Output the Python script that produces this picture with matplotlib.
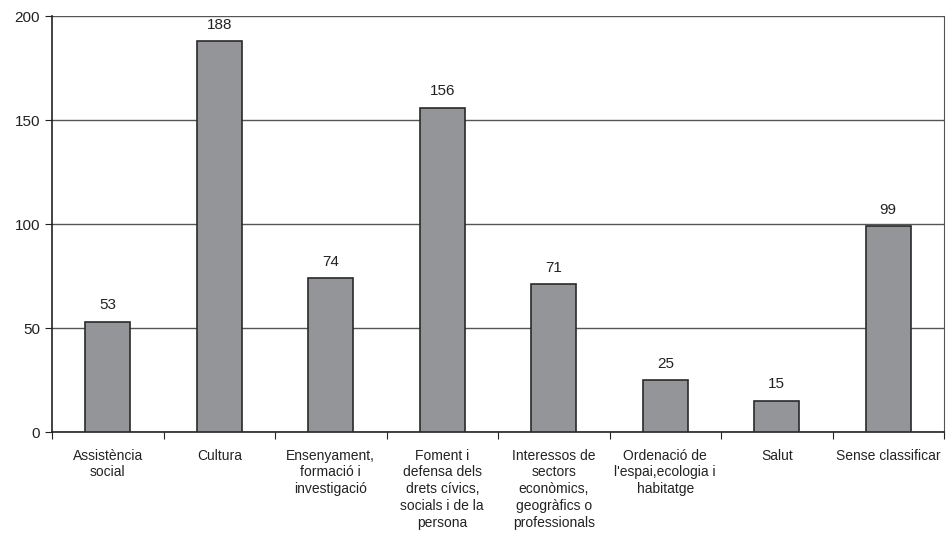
import matplotlib
matplotlib.use("Agg")
import matplotlib.pyplot as plt

categories = ["Assistència\nsocial", "Cultura", "Ensenyament,\nformació i\ninvestigació",
              "Foment i\ndefensa dels\ndrets cívics,\nsocials i de la\npersona",
              "Interessos de\nsectors\neconòmics,\ngeogràfics o\nprofessionals",
              "Ordenació de\nl'espai,ecologia i\nhabitatge", "Salut", "Sense classificar"]
values = [53, 188, 74, 156, 71, 25, 15, 99]
yticks = [0, 50, 100, 150, 200]

plt.rcParams['font.family'] = ['Liberation Sans', 'DejaVu Sans']
fig = plt.figure(figsize=(9.51, 5.33), dpi=100)
ax = fig.add_axes([52/951, 1-432/533, (944-52)/951, (432-16)/533])

x = list(range(len(values)))
ax.bar(x, values, width=0.40, color='#939598', edgecolor='#2a2a2a', linewidth=1.2, zorder=3)
for xi, v in zip(x, values):
    ax.text(xi, v + 4.5, str(v), ha='center', va='bottom', fontsize=11, color='#222222')

ax.set_xlim(-0.5, len(values) - 0.5)
ax.set_ylim(0, 200)
ax.set_yticks(yticks)
ax.set_yticklabels([str(t) for t in yticks], fontsize=11)
ax.yaxis.grid(True, color='#555555', linewidth=1.0, zorder=0)
ax.set_xticks([i + 0.5 for i in range(-1, len(values))], minor=False)
ax.set_xticklabels([])
ax.set_xticks(x, minor=True)
ax.set_xticklabels(categories, minor=True, fontsize=10, linespacing=1.25, va='top', color='#222222')
ax.tick_params(axis='x', which='minor', length=0, pad=12)
ax.tick_params(axis='x', which='major', length=5, direction='out', color='#222222')
ax.tick_params(axis='y', length=5, direction='out', color='#222222', labelcolor='#222222')
for s in ['left', 'bottom']:
    ax.spines[s].set_color('#222222')
    ax.spines[s].set_linewidth(1.2)
ax.spines['top'].set_visible(False)
ax.spines['right'].set_color('#555555')

fig.savefig('out.png', dpi=100)
